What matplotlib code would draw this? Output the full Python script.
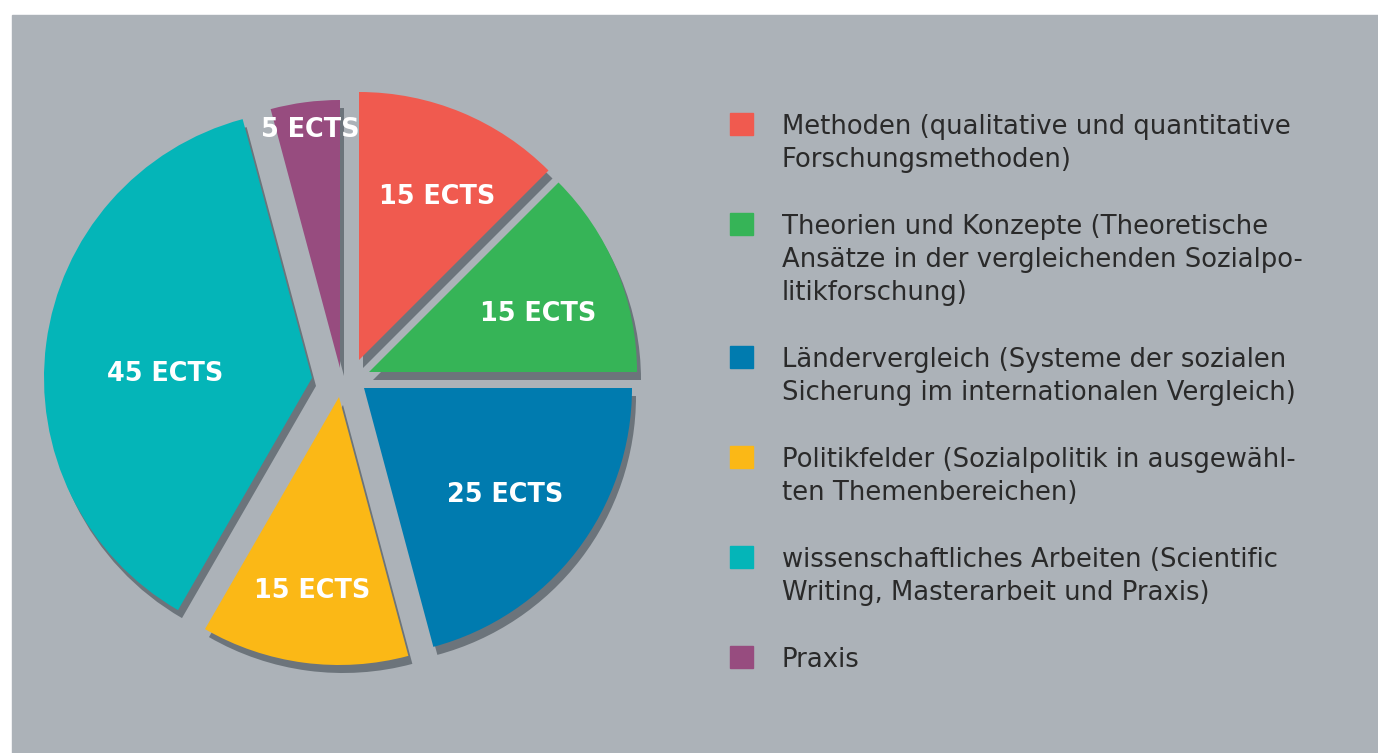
import math
import matplotlib
matplotlib.use("Agg")
import matplotlib.pyplot as plt
from matplotlib.patches import Rectangle, Wedge

# Data
categories = [
    "Methoden (qualitative und quantitative\nForschungsmethoden)",
    "Theorien und Konzepte (Theoretische\nAnsätze in der vergleichenden Sozialpo-\nlitikforschung)",
    "Ländervergleich (Systeme der sozialen\nSicherung im internationalen Vergleich)",
    "Politikfelder (Sozialpolitik in ausgewähl-\nten Themenbereichen)",
    "wissenschaftliches Arbeiten (Scientific\nWriting, Masterarbeit und Praxis)",
    "Praxis",
]
ects = [15, 15, 25, 15, 45, 5]
colors = ["#f05a4f", "#36b457", "#007baf", "#fbb816", "#04b5b8", "#974c7f"]

W, H = 1378, 753
bg = "#acb2b8"
shadow = "#6c747b"
text_dark = "#2a2a2a"

fig = plt.figure(figsize=(W / 100, H / 100), dpi=100)
fig.patch.set_facecolor("white")
ax = fig.add_axes([0, 0, 1, 1])

# grey panel
ax.add_patch(Rectangle((12, -10), W, H - 5, color=bg, zorder=0))

# pie (pixel units, y up)
center = (349, H - 378)
radius = 268
wedges, _ = ax.pie(ects, colors=colors, startangle=90, counterclock=False,
                   radius=radius, center=center, frame=True,
                   wedgeprops=dict(linewidth=0, zorder=3))

# hand-tuned offsets of each slice (px, x right / y down), like the original graphic
slice_shift = [(10, -18), (20, -6), (15, 10), (-10, 19), (-37, 0), (-9, -10)]
for w, (dx, dy) in zip(wedges, slice_shift):
    cx, cy = w.center
    w.set_center((cx + dx, cy - dy))
    cx, cy = w.center
    ax.add_patch(Wedge((cx + 4, cy - 8), w.r, w.theta1, w.theta2,
                       facecolor=shadow, linewidth=0, zorder=2))

# slice labels (polar position from pie center)
label_r = [203, 200, 194, 214, 184, 253]
label_ang = [64.3, 19.3, -36.3, -99.8, 178.1, 98.8]
for v, r, a in zip(ects, label_r, label_ang):
    x = center[0] + r * math.cos(math.radians(a))
    y = center[1] + r * math.sin(math.radians(a))
    ax.text(x, y - 9, f"{v} ECTS", color="white", fontsize=18.4, fontweight="bold",
            ha="center", va="baseline", zorder=6)

# legend
base = 134
for lab, col in zip(categories, colors):
    lines = lab.split("\n")
    ax.add_patch(Rectangle((730, H - (base - 21) - 22), 23, 22, color=col, zorder=3))
    for k, line in enumerate(lines):
        ax.text(782, H - (base + k * 33), line, color=text_dark, fontsize=18.6,
                ha="left", va="baseline", zorder=3)
    base += len(lines) * 33 + 34

ax.set_xlim(0, W)
ax.set_ylim(0, H)
ax.set_aspect("equal")
ax.axis("off")

fig.savefig("out.png", dpi=100, facecolor="white")
